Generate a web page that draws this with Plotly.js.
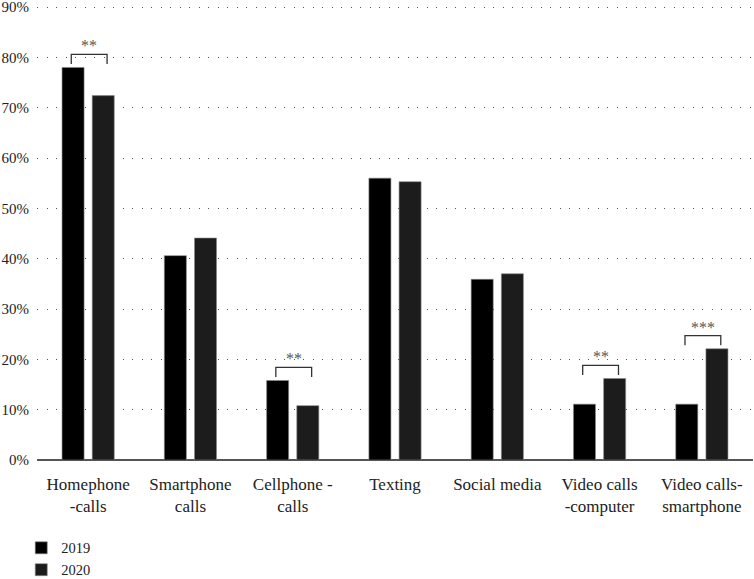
<!DOCTYPE html>
<html>
<head>
<meta charset="utf-8">
<script src="https://cdn.plot.ly/plotly-3.0.1.min.js"></script>
<style>html,body{margin:0;padding:0;background:#fff;}#chart{width:754px;height:579px;}</style>
</head>
<body>
<div id="chart"></div>
<script>
var categories = ['Homephone<br>-calls', 'Smartphone<br>calls', 'Cellphone -<br>calls', 'Texting', 'Social media', 'Video calls<br>-computer', 'Video calls-<br>smartphone'];
var values2019 = [78, 40.6, 15.8, 56.0, 35.9, 11.1, 11.1];
var values2020 = [72.4, 44.1, 10.8, 55.3, 37.0, 16.2, 22.1];
var significance = ['**', '', '**', '', '', '**', '***'];
var yTickVals = [0, 10, 20, 30, 40, 50, 60, 70, 80, 90];
var yTickText = ['0%', '10%', '20%', '30%', '40%', '50%', '60%', '70%', '80%', '90%'];

var FONT = 'Liberation Serif';
var idx = categories.map(function (_, i) { return i; });

var traces = [
  {type: 'bar', name: '2019', x: idx, y: values2019,
   marker: {color: '#000000', line: {color: '#888888', width: 0.6}}},
  {type: 'bar', name: '2020', x: idx, y: values2020,
   marker: {color: '#1c1c1c', line: {color: '#888888', width: 0.6}}}
];

var shapes = [], annotations = [];
significance.forEach(function (s, i) {
  if (!s) return;
  var top = Math.max(values2019[i], values2020[i]) + 2.6;
  var leg = top - 1.9;
  var x0 = i - 0.165, x1 = i + 0.185;
  shapes.push({type: 'path', xref: 'x', yref: 'y',
    path: 'M' + x0 + ',' + leg + ' L' + x0 + ',' + top + ' L' + x1 + ',' + top + ' L' + x1 + ',' + leg,
    line: {color: '#333333', width: 1.3}});
  annotations.push({xref: 'x', yref: 'y', x: (x0 + x1) / 2, y: top, text: s, showarrow: false,
    yanchor: 'bottom', yshift: -2, font: {family: FONT, size: 16, color: '#555555'}});
});

var layout = {
  width: 754, height: 579,
  margin: {l: 37, r: 1, t: 2, b: 119, autoexpand: false},
  paper_bgcolor: '#ffffff', plot_bgcolor: '#ffffff',
  font: {family: FONT, color: '#222222'},
  barmode: 'group', bargap: 0.41, bargroupgap: 0.27,
  showlegend: true,
  legend: {orientation: 'v', x: -0.022, xanchor: 'left', y: -0.157, yanchor: 'top',
    font: {family: FONT, size: 14.5, color: '#222222'}, tracegroupgap: 0, itemwidth: 30},
  xaxis: {range: [-0.5, 6.5], tickmode: 'array', tickvals: idx, ticktext: categories,
    showgrid: false, zeroline: false, showline: false, ticks: '', ticklabelstandoff: 12,
    tickfont: {family: FONT, size: 17, color: '#222222'}, fixedrange: true},
  yaxis: {range: [0, 91], tickmode: 'array', tickvals: yTickVals, ticktext: yTickText,
    showgrid: true, gridcolor: '#555555', gridwidth: 1, griddash: '1px,8.5px',
    zeroline: true, zerolinecolor: '#555555', zerolinewidth: 1.5,
    showline: false, ticks: '', ticklabelstandoff: 7, ticklabeloverflow: 'allow',
    tickfont: {family: FONT, size: 15, color: '#222222'}, fixedrange: true},
  shapes: shapes,
  annotations: annotations
};

Plotly.newPlot('chart', traces, layout, {displayModeBar: false, staticPlot: true});
</script>
</body>
</html>
